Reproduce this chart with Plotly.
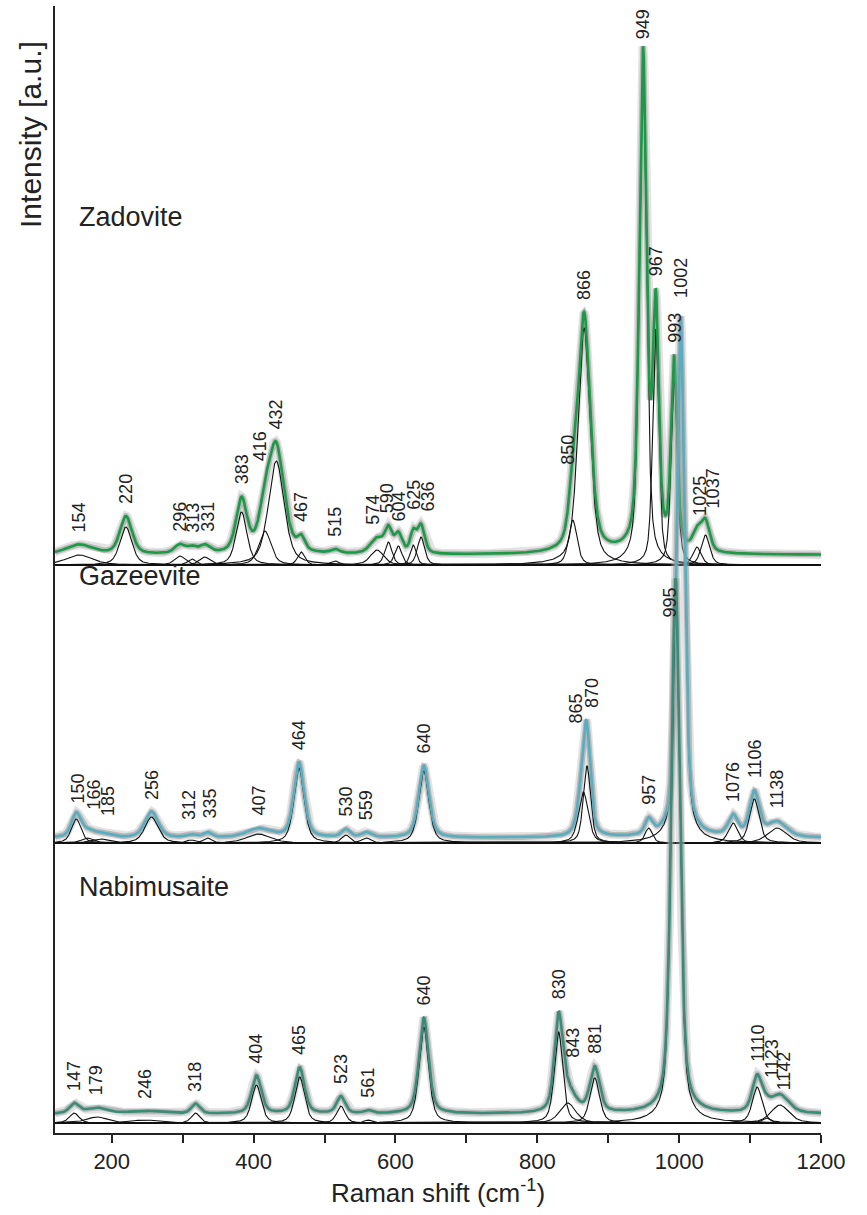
import numpy as np
import plotly.graph_objects as go

# Raman shift window (cm-1)
X_MIN, X_MAX = 120, 1200

# ---- Zadovite: fitted band centres (cm-1), band heights (a.u.), FWHM (cm-1)
zad_pos = [154, 220, 296, 313, 331, 383, 416, 432, 467, 515, 574, 590, 604,
           625, 636, 850, 866, 949, 967, 993, 1025, 1037]
zad_amp = [10, 38, 9, 6, 8, 53, 34, 104, 13, 4, 15, 23, 19,
           20, 28, 45, 237, 497, 236, 190, 18, 30]
zad_fwhm = [45, 20, 18, 14, 18, 18, 20, 26, 12, 14, 22, 12, 12,
            10, 12, 14, 20, 12, 10, 10, 14, 14]

# ---- Gazeevite
gaz_pos = [150, 166, 185, 256, 312, 335, 407, 464, 530, 559, 640, 865, 870,
           957, 1002, 1076, 1106, 1138]
gaz_amp = [24, 5, 4, 26, 3, 5, 9, 75, 8, 5, 72, 51, 77,
           15, 521, 20, 44, 15]
gaz_fwhm = [16, 20, 30, 22, 16, 14, 40, 17, 14, 16, 17, 16, 12,
            12, 13, 16, 16, 32]

# ---- Nabimusaite
nab_pos = [147, 179, 246, 318, 404, 465, 523, 561, 640, 830, 843, 881, 995,
           1110, 1123, 1142]
nab_amp = [10, 6, 3, 10, 38, 46, 17, 3, 96, 91, 20, 45, 535,
           36, 5, 18]
nab_fwhm = [16, 35, 50, 14, 16, 16, 14, 12, 16, 14, 26, 16, 14,
            16, 14, 30]

# vertical stacking: baseline of each spectrum and the constant background
# sitting under the measured/summed curve
spectra = [
    dict(name="Zadovite", pos=zad_pos, amp=zad_amp, fwhm=zad_fwhm,
         base=568, bg=10, color="#1b9a46", name_y=916),
    dict(name="Gazeevite", pos=gaz_pos, amp=gaz_amp, fwhm=gaz_fwhm,
         base=290, bg=5, color="#58adc0", name_y=557),
    dict(name="Nabimusaite", pos=nab_pos, amp=nab_amp, fwhm=nab_fwhm,
         base=10, bg=9, color="#3a8c78", name_y=246),
]

# placement of crowded band labels: (shift in px, fixed bottom y or None, gap in px)
LABEL_GAP = 10
label_tweaks = {
    ("Zadovite", 313): (1, None, LABEL_GAP),
    ("Zadovite", 331): (3, None, LABEL_GAP),
    ("Zadovite", 416): (-5, None, 12),
    ("Zadovite", 574): (-4, None, LABEL_GAP),
    ("Zadovite", 590): (-1, None, LABEL_GAP),
    ("Zadovite", 604): (1, None, 8),
    ("Zadovite", 625): (1, None, 12),
    ("Zadovite", 636): (7, None, 12),
    ("Zadovite", 850): (-5, 666, 0),
    ("Zadovite", 949): (0, None, 5),
    ("Zadovite", 1025): (3, 615, 0),
    ("Zadovite", 1037): (8, 623, 0),
    ("Gazeevite", 150): (2, None, 7),
    ("Gazeevite", 166): (6, 321, 0),
    ("Gazeevite", 185): (7, 315, 0),
    ("Gazeevite", 312): (-2, None, 12),
    ("Gazeevite", 335): (2, None, 12),
    ("Gazeevite", 865): (-7, 408, 0),
    ("Gazeevite", 870): (5, None, LABEL_GAP),
    ("Gazeevite", 1002): (1, None, 16),
    ("Nabimusaite", 995): (-6, 513, 0),
    ("Nabimusaite", 843): (5, 73, 0),
    ("Nabimusaite", 1123): (5, 53, 0),
    ("Nabimusaite", 1142): (4, 41, 0),
}

PLOT_W_PX = 766.0
PX_PER_CM = PLOT_W_PX / (X_MAX - X_MIN)

grid = np.linspace(X_MIN, X_MAX, 4321)


def band(x, c, h, w, eta=0.5):
    """Pseudo-Voigt band of height h and full width w at centre c."""
    z = (x - c) / w
    gauss = np.exp(-4.0 * np.log(2.0) * z ** 2)
    lor = 1.0 / (1.0 + 4.0 * z ** 2)
    return h * (eta * lor + (1.0 - eta) * gauss)


fig = go.Figure()
annotations = []
FONT = "Liberation Sans, Arial, Helvetica, sans-serif"
INK = "#222222"

for sp in spectra:
    comps = [band(grid, c, h, w) for c, h, w in zip(sp["pos"], sp["amp"], sp["fwhm"])]
    total = sp["base"] + sp["bg"] + np.sum(comps, axis=0)

    # measured spectrum: soft grey band under the fitted envelope
    fig.add_trace(go.Scatter(x=grid, y=total, mode="lines",
                             line=dict(color="rgba(175,175,175,0.35)", width=9),
                             hoverinfo="skip"))
    fig.add_trace(go.Scatter(x=grid, y=total, mode="lines",
                             line=dict(color="rgba(150,150,150,0.55)", width=5.5),
                             hoverinfo="skip"))
    # individual fitted bands
    for comp in comps:
        fig.add_trace(go.Scatter(x=grid, y=sp["base"] + comp, mode="lines",
                                 line=dict(color="#111111", width=1.1),
                                 hoverinfo="skip"))
    # fitted envelope
    fig.add_trace(go.Scatter(x=grid, y=total, mode="lines",
                             line=dict(color=sp["color"], width=2.6),
                             hoverinfo="skip"))

    # band position labels, placed just above the envelope
    for c in sp["pos"]:
        shift_px, fixed_y, gap = label_tweaks.get((sp["name"], c), (0, None, LABEL_GAP))
        xl = c + shift_px / PX_PER_CM
        if fixed_y is None:
            win = np.abs(grid - xl) <= 6.0 / PX_PER_CM
            yl = float(total[win].max()) + gap
        else:
            yl = fixed_y
        annotations.append(dict(x=xl, y=yl, xref="x", yref="y", text=str(c),
                                textangle=-90, showarrow=False,
                                xanchor="center", yanchor="bottom",
                                font=dict(family=FONT, size=18, color=INK)))

    annotations.append(dict(x=X_MIN + 22 / PX_PER_CM, y=sp["name_y"], xref="x", yref="y",
                            text=sp["name"], showarrow=False, xanchor="left",
                            yanchor="middle",
                            font=dict(family=FONT, size=27, color=INK)))

annotations.append(dict(x=-0.032, y=0.886, xref="paper", yref="paper",
                        text="Intensity [a.u.]", textangle=-90, showarrow=False,
                        xanchor="center", yanchor="middle",
                        font=dict(family=FONT, size=30, color=INK)))

fig.update_layout(
    width=867, height=1215,
    margin=dict(l=55, r=46, t=6, b=82),
    paper_bgcolor="white", plot_bgcolor="white",
    showlegend=False,
    annotations=annotations,
    xaxis=dict(range=[X_MIN, X_MAX], showgrid=False, zeroline=False,
               showline=True, linecolor=INK, linewidth=2,
               tickmode="linear", tick0=200, dtick=200,
               ticks="outside", ticklen=8, tickwidth=1.5, tickcolor=INK,
               minor=dict(tickmode="linear", tick0=100, dtick=100,
                          ticks="outside", ticklen=8, tickwidth=1.5,
                          tickcolor=INK, showgrid=False),
               tickfont=dict(family=FONT, size=22, color=INK),
               title=dict(text="Raman shift (cm<sup>-1</sup>)",
                          font=dict(family=FONT, size=26, color=INK),
                          standoff=10)),
    yaxis=dict(range=[0, 1127], showgrid=False, zeroline=False,
               showline=True, linecolor=INK, linewidth=2,
               showticklabels=False, ticks=""),
)

fig.write_html("out.html")
